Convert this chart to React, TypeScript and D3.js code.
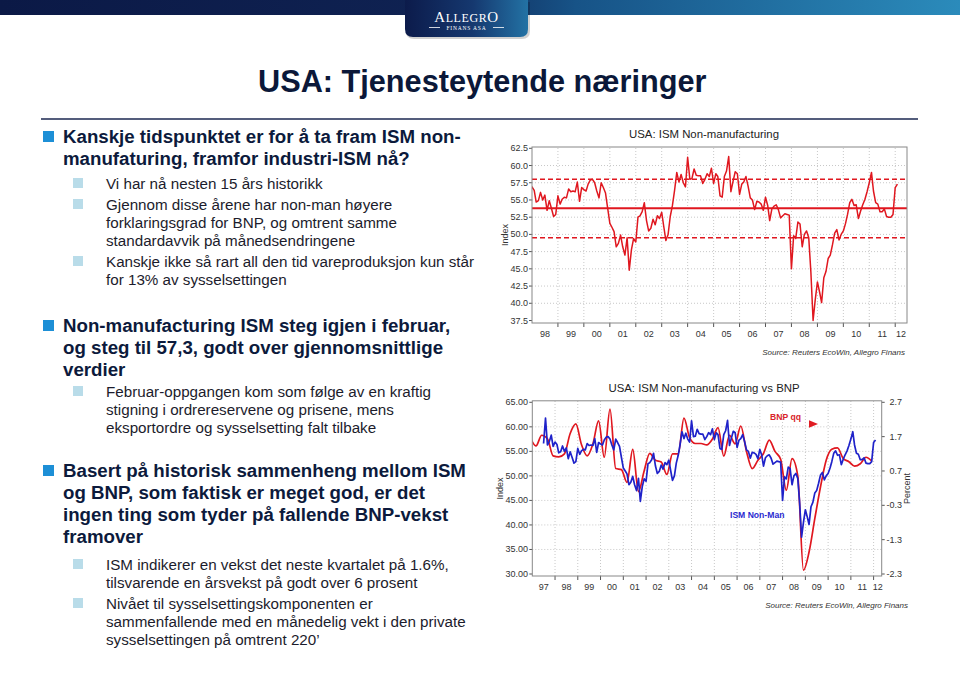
import React from 'react';
import * as d3 from 'd3';

const SANS = '"Liberation Sans", Arial, sans-serif';
const SERIF = '"Liberation Serif", "Times New Roman", serif';

// ISM non-manufacturing index, monthly, Jul 1997 - Feb 2012
const ismIndex = [
  56.6, 61.8, 56.3, 57.0, 58.3, 56.0,
  56.9, 56.4, 54.7, 54.9, 56.1, 55.0, 55.7, 53.5, 54.9, 53.8, 52.6, 52.9,
  55.6, 54.4, 55.1, 55.4, 55.3, 56.6, 56.2, 56.3, 56.2, 57.6, 54.8, 56.8,
  56.5, 56.3, 57.3, 57.9, 58.0, 57.5, 56.3, 55.3, 57.5, 56.8, 56.0, 53.8,
  51.6, 51.0, 50.4, 48.2, 48.7, 49.9, 48.2, 47.0, 49.5, 44.8, 47.8, 49.4,
  48.9, 52.5, 52.7, 53.3, 54.6, 52.0, 50.5, 50.9, 52.2, 51.4, 52.7, 52.3,
  53.2, 51.0, 49.1, 50.0, 52.6, 54.2, 56.4, 59.0, 57.6, 58.7, 57.5, 56.9,
  61.2, 58.0, 58.1, 59.5, 58.6, 58.5, 58.5, 57.4, 58.0, 58.8, 58.4, 59.6,
  57.4, 58.8, 58.4, 55.6, 55.4, 58.4, 59.2, 61.3, 56.2, 57.7, 59.1, 58.8,
  55.8, 57.3, 57.6, 58.4, 57.0, 55.3, 55.0, 53.6, 54.8, 54.7, 54.4, 53.5,
  55.4, 54.2, 52.0, 53.7, 54.1, 54.3, 53.6, 52.4, 52.7, 53.0, 52.9, 52.8,
  45.0, 49.8, 49.4, 51.8, 51.5, 48.2, 50.0, 50.5, 49.5, 44.5, 37.5, 40.5,
  43.1, 41.6, 40.1, 43.7, 44.6, 46.5, 47.0, 48.5, 50.2, 50.7, 49.2, 50.0,
  50.5, 51.6, 52.9, 54.6, 55.1, 54.2, 54.3, 52.3, 53.4, 54.3, 55.1, 56.2,
  57.5, 59.0, 56.3, 54.6, 54.4, 53.3, 53.3, 53.7, 52.6, 52.5, 52.5, 52.9,
  56.8, 57.3,
];

// BNP (GDP) q/q growth in percent, quarterly, 1996Q4 - 2011Q4
const gdpQoQ = [
  1.67,
  1.43, 1.74, 1.64, 1.14,
  1.11, 1.20, 1.79, 2.07,
  1.47, 1.14, 1.49, 2.16,
  1.10, 2.50, 0.77, 0.74,
  0.37, 1.33, 0.10, 0.70,
  1.21, 1.01, 0.96, 0.60,
  1.20, 1.20, 2.24, 1.67,
  1.50, 1.50, 1.46, 1.63,
  1.96, 1.13, 1.74, 1.49,
  2.01, 1.27, 0.77, 1.01,
  1.21, 1.60, 1.27, 1.04,
  0.14, 1.06, 0.56, -2.19,
  -1.66, -0.69, 0.24, 1.01,
  1.33, 1.37, 1.06, 0.97,
  0.84, 0.91, 1.10, 0.99,
];

// average and +/- one standard deviation bands in the top chart
const refLevels = [49.5, 53.8, 58.0];

const topTicks = [37.5, 40.0, 42.5, 45.0, 47.5, 50.0, 52.5, 55.0, 57.5, 60.0, 62.5];
const leftTicks = [30, 35, 40, 45, 50, 55, 60, 65];
const rightTicks = [-2.3, -1.3, -0.3, 0.7, 1.7, 2.7];

const sourceText = 'Source: Reuters EcoWin, Allegro Finans';

const bullets = [
  {
    lines: ['Kanskje tidspunktet er for å ta fram ISM non-', 'manufaturing, framfor industri-ISM nå?'],
    subs: [
      ['Vi har nå nesten 15 års historikk'],
      ['Gjennom disse årene har non-man høyere', 'forklaringsgrad for BNP, og omtrent samme', 'standardavvik på månedsendringene'],
      ['Kanskje ikke så rart all den tid vareproduksjon kun står', 'for 13% av sysselsettingen'],
    ],
  },
  {
    lines: ['Non-manufacturing ISM steg igjen i februar,', 'og steg til 57,3, godt over gjennomsnittlige', 'verdier'],
    subs: [
      ['Februar-oppgangen kom som følge av en kraftig', 'stigning i ordrereservene og prisene, mens', 'eksportordre og sysselsetting falt tilbake'],
    ],
  },
  {
    lines: ['Basert på historisk sammenheng mellom ISM', 'og BNP, som faktisk er meget god, er det', 'ingen ting som tyder på fallende BNP-vekst', 'framover'],
    subs: [
      ['ISM indikerer en vekst det neste kvartalet på 1.6%,', 'tilsvarende en årsvekst på godt over 6 prosent'],
      ['Nivået til sysselsettingskomponenten er', 'sammenfallende med en månedelig vekt i den private', 'sysselsettingen på omtrent 220’'],
    ],
  },
];

const bulletTop = [143, 332, 477];
const subTop = [189, 397, 570];

const RED = '#e0171f';
const BLUE = '#1f22c9';
const GRID = '#c8c8c8';
const fmtYY = d3.timeFormat('%y');

const ismData: [Date, number][] = ismIndex.map((v, i) => [new Date(1997, 6 + i, 1), v]);
const gdpData: [Date, number][] = gdpQoQ.map((v, i) => [new Date(1997, 3 * i - 1, 1), v]);

function YearAxis({ x, left, right, bottom, first, last }) {
  const years = d3.timeYear.range(new Date(first, 0, 1), new Date(last + 1, 0, 1));
  return (
    <g>
      {years.map((s) => {
        const x0 = x(s);
        const x1 = Math.min(x(d3.timeYear.offset(s, 1)), right);
        return (
          <g key={+s}>
            {x0 > left + 1 && (
              <>
                <line x1={x0} x2={x0} y1={bottom - 175} y2={bottom} stroke={GRID} strokeDasharray="1 2" />
                <line x1={x0} x2={x0} y1={bottom} y2={bottom + 4} stroke="#555" />
              </>
            )}
            <text x={(x0 + x1) / 2} y={bottom + 13.5} textAnchor="middle" fontSize={9} fill="#333">
              {fmtYY(s)}
            </text>
          </g>
        );
      })}
    </g>
  );
}

function TopChart() {
  const L = 532, R = 907, T = 147, B = 323;
  const x = d3.scaleTime().domain([new Date(1998, 0, 1), new Date(2012, 5, 15)]).range([L, R]);
  const y = d3.scaleLinear().domain([37.5, 62.5]).range([320.5, 148.3]);
  const line = d3.line<[Date, number]>().x((d) => x(d[0])).y((d) => y(d[1]));
  return (
    <g fontFamily={SANS}>
      <defs>
        <clipPath id="clipTop"><rect x={L} y={T} width={R - L} height={B - T} /></clipPath>
      </defs>
      <text x={704} y={138} textAnchor="middle" fontSize={11.4} fill="#222">USA: ISM Non-manufacturing</text>
      {topTicks.map((t) => (
        <g key={t}>
          {t > 37.5 && t < 62.5 && <line x1={L} x2={R} y1={y(t)} y2={y(t)} stroke={GRID} strokeDasharray="1 2" />}
          <line x1={L - 3} x2={L} y1={y(t)} y2={y(t)} stroke="#555" />
          <text x={528} y={y(t) + 3} textAnchor="end" fontSize={9} fill="#333">{t.toFixed(1)}</text>
        </g>
      ))}
      <YearAxis x={x} left={L} right={R} bottom={B} first={1998} last={2012} />
      <g clipPath="url(#clipTop)">
        {refLevels.map((r, i) => (
          <line key={r} x1={L} x2={R} y1={y(r)} y2={y(r)} stroke={RED}
            strokeWidth={i === 1 ? 2 : 1.5} strokeDasharray={i === 1 ? undefined : '5 3'} />
        ))}
        <path d={line(ismData) || ''} fill="none" stroke={RED} strokeWidth={1.5} strokeLinejoin="round" />
      </g>
      <rect x={L} y={T} width={R - L} height={B - T} fill="none" stroke="#888" />
      <text transform={`translate(508,${(T + B) / 2}) rotate(-90)`} textAnchor="middle" fontSize={9} fill="#333">Index</text>
      <text x={905} y={355} textAnchor="end" fontSize={8} fontStyle="italic" fill="#333">{sourceText}</text>
    </g>
  );
}

function BottomChart() {
  const L = 532.3, R = 881.7, T = 400.8, B = 576;
  const x = d3.scaleTime().domain([new Date(1997, 0, 1), new Date(2012, 4, 10)]).range([L, R]);
  const yL = d3.scaleLinear().domain([30, 65]).range([574, 402.3]);
  const yR = d3.scaleLinear().domain([-2.3, 2.7]).range([574, 402.3]);
  const ismLine = d3.line<[Date, number]>().x((d) => x(d[0])).y((d) => yL(d[1]));
  const gdpLine = d3.line<[Date, number]>().x((d) => x(d[0])).y((d) => yR(d[1])).curve(d3.curveMonotoneX);
  return (
    <g fontFamily={SANS}>
      <defs>
        <clipPath id="clipBot"><rect x={L} y={T} width={R - L} height={B - T} /></clipPath>
        <linearGradient id="arrowGrad" x1="0" x2="1">
          <stop offset="0" stopColor="#f3d2d2" />
          <stop offset="1" stopColor="#e68a8a" />
        </linearGradient>
      </defs>
      <text x={704} y={392} textAnchor="middle" fontSize={11.4} fill="#222">USA: ISM Non-manufacturing vs BNP</text>
      {leftTicks.map((t) => (
        <g key={t}>
          {t > 30 && t < 65 && <line x1={L} x2={R} y1={yL(t)} y2={yL(t)} stroke={GRID} strokeDasharray="1 2" />}
          <line x1={L - 3} x2={L} y1={yL(t)} y2={yL(t)} stroke="#555" />
          <text x={528} y={yL(t) + 3} textAnchor="end" fontSize={9} fill="#333">{t.toFixed(2)}</text>
        </g>
      ))}
      {rightTicks.map((t) => (
        <g key={t}>
          <line x1={R} x2={R + 3} y1={yR(t)} y2={yR(t)} stroke="#555" />
          <text x={902} y={yR(t) + 3} textAnchor="end" fontSize={9} fill="#333">{t.toFixed(1)}</text>
        </g>
      ))}
      <YearAxis x={x} left={L} right={R} bottom={B} first={1997} last={2012} />
      <g clipPath="url(#clipBot)">
        <path d={gdpLine(gdpData) || ''} fill="none" stroke={RED} strokeWidth={1.7} />
        <path d={ismLine(ismData) || ''} fill="none" stroke={BLUE} strokeWidth={1.7} strokeLinejoin="round" />
      </g>
      <rect x={L} y={T} width={R - L} height={B - T} fill="none" stroke="#888" />
      <text x={770} y={420} fontSize={8.6} fontWeight="bold" fill="#d8232a">BNP qq</text>
      <line x1={760} x2={811} y1={424} y2={424} stroke="url(#arrowGrad)" strokeWidth={2.2} />
      <polygon points="809,420.3 818,424 809,427.7" fill="#e01c22" />
      <text x={730} y={517.5} fontSize={8.6} fontWeight="bold" fill="#2a2ad0">ISM Non-Man</text>
      <text transform={`translate(503,${(T + B) / 2}) rotate(-90)`} textAnchor="middle" fontSize={9} fill="#333">Index</text>
      <text transform={`translate(910,${(T + B) / 2}) rotate(-90)`} textAnchor="middle" fontSize={9} fill="#333">Percent</text>
      <text x={908} y={608} textAnchor="end" fontSize={8} fontStyle="italic" fill="#333">{sourceText}</text>
    </g>
  );
}

function Header() {
  return (
    <g>
      <defs>
        <linearGradient id="barGrad" x1="0" x2="1">
          <stop offset="0" stopColor="#0b1946" />
          <stop offset="0.45" stopColor="#0f2252" />
          <stop offset="0.6" stopColor="#175387" />
          <stop offset="1" stopColor="#2b8bbb" />
        </linearGradient>
        <linearGradient id="tabGrad" x1="0" x2="1">
          <stop offset="0" stopColor="#0c1b4b" />
          <stop offset="0.55" stopColor="#15386f" />
          <stop offset="1" stopColor="#2372a4" />
        </linearGradient>
      </defs>
      <rect x={0} y={0} width={960} height={15} fill="url(#barGrad)" />
      <path d="M406,2 H530 V31 Q530,39 522,39 H414 Q406,39 406,31 Z" fill="#000" opacity={0.18} />
      <path d="M405,0 H528 V29 Q528,37 520,37 H413 Q405,37 405,29 Z" fill="url(#tabGrad)" />
      <text x={466.5} y={22} textAnchor="middle" fontFamily={SERIF} fill="#fff" letterSpacing={0.6}>
        <tspan fontSize={15}>A</tspan>
        <tspan fontSize={12}>LLEGR</tspan>
        <tspan fontSize={15}>O</tspan>
      </text>
      <line x1={429} x2={440} y1={27.5} y2={27.5} stroke="#fff" strokeWidth={0.8} />
      <line x1={493} x2={504} y1={27.5} y2={27.5} stroke="#fff" strokeWidth={0.8} />
      <text x={466.5} y={29.5} textAnchor="middle" fontFamily={SERIF} fontSize={5.5} fill="#fff" letterSpacing={0.8}>FINANS ASA</text>
      <text x={258} y={92} fontFamily={SANS} fontSize={30.7} fontWeight="bold" fill="#0b1839">USA: Tjenesteytende næringer</text>
      <line x1={41} x2={918} y1={119} y2={119} stroke="#1b2750" strokeWidth={1.5} />
    </g>
  );
}

function Bullets() {
  return (
    <g fontFamily={SANS}>
      {bullets.map((b, bi) => {
        const y0 = bulletTop[bi];
        let sy = subTop[bi];
        const subs = b.subs.map((s, si) => {
          if (si > 0) sy += 21;
          const start = sy;
          const el = (
            <g key={si}>
              <rect x={73} y={start - 11} width={10} height={10} fill="#b9dce9" />
              {s.map((ln, li) => (
                <text key={li} x={106} y={start + li * 18} fontSize={15.2} fill="#1c1c2c">{ln}</text>
              ))}
            </g>
          );
          sy += (s.length - 1) * 18;
          return el;
        });
        return (
          <g key={bi}>
            <rect x={43} y={y0 - 12} width={11} height={11} fill="#1d8fd6" />
            {b.lines.map((ln, li) => (
              <text key={li} x={63} y={y0 + li * 22} fontSize={18.7} fontWeight="bold" fill="#0c1a3c">{ln}</text>
            ))}
            {subs}
          </g>
        );
      })}
    </g>
  );
}

export default function App() {
  return (
    <svg width={960} height={679} style={{ position: 'absolute', left: 0, top: 0, background: '#fff' }}>
      <rect width={960} height={679} fill="#fff" />
      <Header />
      <Bullets />
      <TopChart />
      <BottomChart />
    </svg>
  );
}
